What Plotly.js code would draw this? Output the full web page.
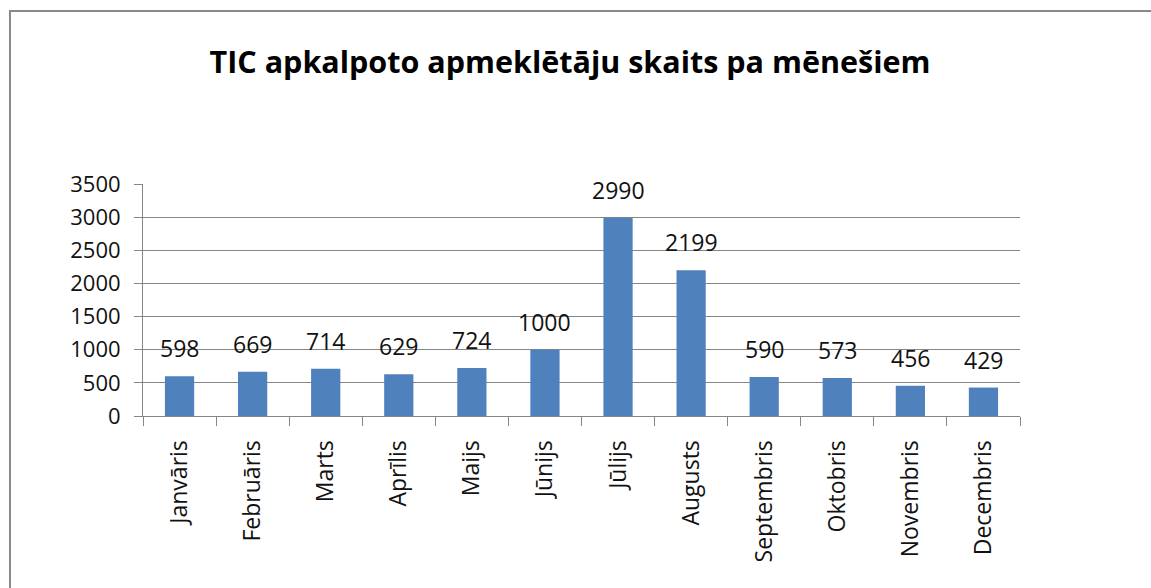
<!DOCTYPE html>
<html>
<head>
<meta charset="utf-8">
<script src="https://cdn.plot.ly/plotly-3.0.1.min.js"></script>
<style>
body { margin: 0; overflow: hidden; background: #fff; }
#chart { position: absolute; left: 0; top: 0; width: 1151px; height: 588px; }
#frame { position: absolute; left: 9px; top: 10px; width: 1300px; height: 800px;
         border: 2px solid #8a8a8a; pointer-events: none; }
</style>
</head>
<body>
<div id="chart"></div>
<div id="frame"></div>
<script>
// Months and visitor counts
const months = ['Janvāris','Februāris','Marts','Aprīlis','Maijs','Jūnijs',
                'Jūlijs','Augusts','Septembris','Oktobris','Novembris','Decembris'];
const visitors = [598, 669, 714, 629, 724, 1000, 2990, 2199, 590, 573, 456, 429];
const yTicks = [0, 500, 1000, 1500, 2000, 2500, 3000, 3500];

const fontFam = '"Open Sans", sans-serif';

let trace = {
    x: months,
    y: visitors,
    type: 'bar',
    marker: { color: '#4f81bd' },
    hoverinfo: 'x+y'
};

// value labels sit a bit above each bar
let labels = months.map(function(m, i) {
    return {
        x: m, y: visitors[i], xref: 'x', yref: 'y',
        text: String(visitors[i]),
        showarrow: false,
        yanchor: 'bottom',
        yshift: 10,
        font: { family: fontFam, size: 23, color: '#111' }
    };
});

let layout = {
    width: 1151,
    height: 588,
    margin: { l: 143, r: 131, t: 184, b: 172 },
    paper_bgcolor: 'rgba(0,0,0,0)',
    plot_bgcolor: 'rgba(0,0,0,0)',
    showlegend: false,
    bargap: 0.6,
    title: {
        text: '<b>TIC apkalpoto apmeklētāju skaits pa mēnešiem</b>',
        font: { family: fontFam, size: 30.5, color: '#000' },
        x: 570 / 1151,
        xanchor: 'center',
        xref: 'container',
        y: 1 - 62 / 588,
        yanchor: 'middle',
        yref: 'container'
    },
    xaxis: {
        type: 'category',
        tickangle: -90,
        tickson: 'boundaries',
        ticks: 'outside',
        ticklen: 9,
        tickcolor: '#868686',
        showline: true,
        linecolor: '#868686',
        linewidth: 1,
        showgrid: false,
        ticklabelstandoff: 14,
        tickfont: { family: fontFam, size: 23, color: '#111' }
    },
    yaxis: {
        range: [0, 3500],
        tickvals: yTicks,
        ticks: 'outside',
        ticklen: 8,
        tickcolor: '#868686',
        showline: true,
        linecolor: '#868686',
        gridcolor: '#868686',
        gridwidth: 1,
        zeroline: false,
        ticklabelstandoff: 9,
        tickfont: { family: fontFam, size: 22, color: '#111' }
    },
    annotations: labels
};

Plotly.newPlot('chart', [trace], layout, { staticPlot: true });
</script>
</body>
</html>
